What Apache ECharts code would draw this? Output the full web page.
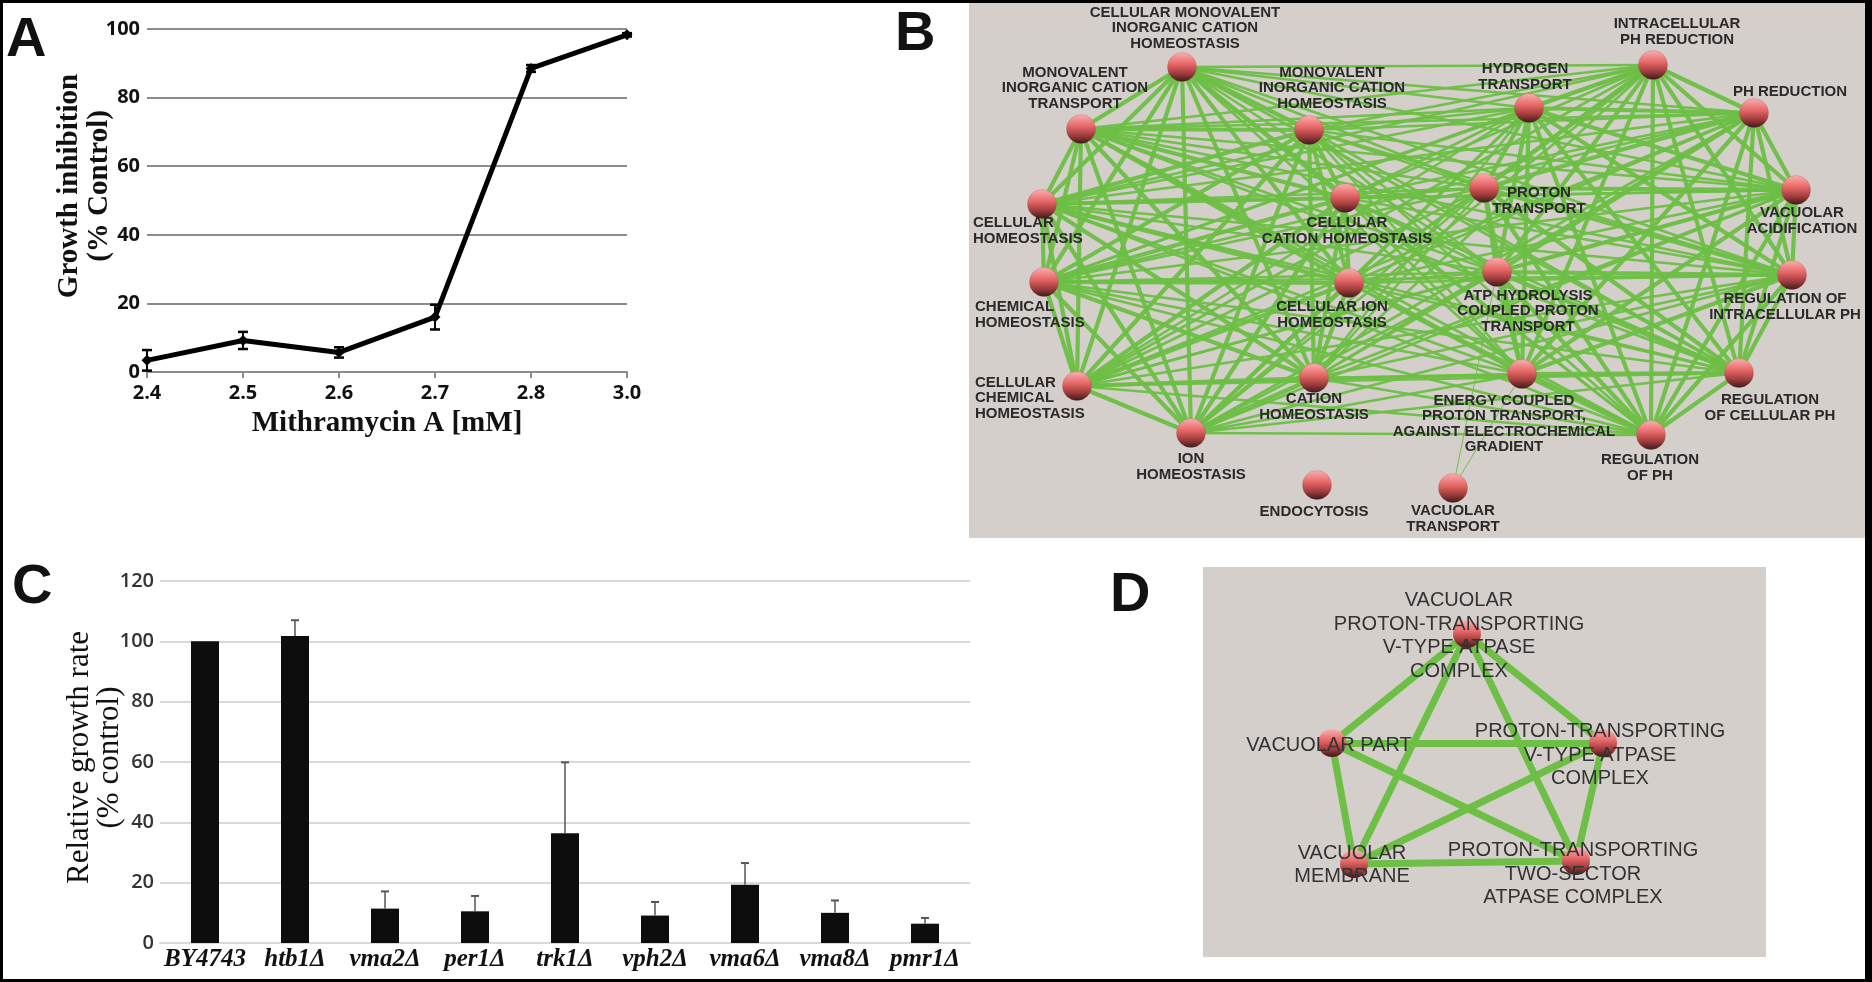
<!DOCTYPE html>
<html>
<head>
<meta charset="utf-8">
<script src="https://cdn.jsdelivr.net/npm/echarts@6/dist/echarts.min.js"></script>
<style>
html,body{margin:0;padding:0;background:#fff;}
#main{width:1872px;height:982px;}
</style>
</head>
<body>
<div id="main"></div>
<script>
// ---------- Panel A data ----------
const aX = ['2.4', '2.5', '2.6', '2.7', '2.8', '3.0'];
const aVal = [3.4, 9.2, 5.7, 16, 88.5, 98.3];
const aErr = [3, 2.5, 1.5, 3.6, 1, 0.5];
const aYTicks = [0, 20, 40, 60, 80, 100];

// ---------- Panel C data ----------
const cCats = ['BY4743', 'htb1Δ', 'vma2Δ', 'per1Δ', 'trk1Δ', 'vph2Δ', 'vma6Δ', 'vma8Δ', 'pmr1Δ'];
const cVal = [100, 101.8, 11.4, 10.5, 36.4, 9.1, 19.3, 10, 6.4];
const cErr = [0, 5.2, 5.7, 5.1, 23.5, 4.5, 7.2, 4.1, 1.9];
const cYTicks = [0, 20, 40, 60, 80, 100, 120];

// ---------- Panel B network (layout units) ----------
const bNames = [
  'CELLULAR MONOVALENT\nINORGANIC CATION\nHOMEOSTASIS',
  'MONOVALENT\nINORGANIC CATION\nTRANSPORT',
  'MONOVALENT\nINORGANIC CATION\nHOMEOSTASIS',
  'CELLULAR\nHOMEOSTASIS',
  'CELLULAR\nCATION HOMEOSTASIS',
  'INTRACELLULAR\nPH REDUCTION',
  'HYDROGEN\nTRANSPORT',
  'PH REDUCTION',
  'PROTON\nTRANSPORT',
  'VACUOLAR\nACIDIFICATION',
  'CHEMICAL\nHOMEOSTASIS',
  'CELLULAR ION\nHOMEOSTASIS',
  'CELLULAR\nCHEMICAL\nHOMEOSTASIS',
  'CATION\nHOMEOSTASIS',
  'ION\nHOMEOSTASIS',
  'ENDOCYTOSIS',
  'ATP HYDROLYSIS\nCOUPLED PROTON\nTRANSPORT',
  'REGULATION OF\nINTRACELLULAR PH',
  'ENERGY COUPLED\nPROTON TRANSPORT,\nAGAINST ELECTROCHEMICAL\nGRADIENT',
  'REGULATION\nOF CELLULAR PH',
  'REGULATION\nOF PH',
  'VACUOLAR\nTRANSPORT'
];
const bX = [213, 112, 340, 73, 376, 684, 560, 785, 515, 827, 75, 380, 108, 345, 222, 348, 528, 823, 553, 770, 682, 484];
const bY = [64, 126, 127, 201, 195, 62, 105, 110, 185, 187, 279, 280, 383, 375, 430, 482, 269, 272, 371, 370, 432, 485];
// overlap cluster of each term (0 = ion homeostasis cluster, 1 = proton / pH cluster, -1 = unlinked)
const bGroup = [0, 0, 0, 0, 0, 1, 1, 1, 1, 1, 0, 0, 0, 0, 0, -1, 1, 1, 1, 1, 1, -1];
const bExtraLinks = [[21, 18], [21, 16]];

// ---------- Panel D network (layout units) ----------
const dNames = [
  'VACUOLAR\nPROTON-TRANSPORTING\nV-TYPE ATPASE\nCOMPLEX',
  'VACUOLAR PART',
  'PROTON-TRANSPORTING\nV-TYPE ATPASE\nCOMPLEX',
  'VACUOLAR\nMEMBRANE',
  'PROTON-TRANSPORTING\nTWO-SECTOR\nATPASE COMPLEX'
];
const dX = [264, 129, 400, 151, 373];
const dY = [67, 176, 176, 297, 294];

// ---------- label placement (style) ----------
const bLabelOffset = [
  [3, -39], [-6, -41], [23, -42], [-69, 27], [2, 33], [24, -33], [-4, -31], [36, -21],
  [55, 13], [6, 31], [-69, 33], [-17, 32], [-102, 12], [0, 29], [0, 34], [-3, 27],
  [31, 39], [-7, 32], [-18, 50], [31, 35], [-1, 33], [0, 31]
];
const bLabelAlign = ['center', 'center', 'center', 'left', 'center', 'center', 'center', 'center',
  'center', 'center', 'left', 'center', 'left', 'center', 'center', 'center',
  'center', 'center', 'center', 'center', 'center', 'center'];
const dLabelOffset = [[-8, 2], [-3, 2], [-3, 12], [-2, 1], [-3, 13]];

const chart = echarts.init(document.getElementById('main'), null, {renderer: 'canvas'});

const nodeColor = new echarts.graphic.LinearGradient(0, 0, 0, 1, [
  {offset: 0, color: '#fbb0b0'},
  {offset: 0.4, color: '#e86868'},
  {offset: 0.72, color: '#a03c3c'},
  {offset: 1, color: '#3a1a1a'}
]);
const green = '#6dbf45';

// Build B nodes & links
const bData = bNames.map((n, i) => ({
  name: n,
  value: [bX[i], bY[i]],
  label: {offset: bLabelOffset[i], align: bLabelAlign[i]}
}));
const bLinks = [];
for (let i = 0; i < bNames.length; i++) {
  for (let j = i + 1; j < bNames.length; j++) {
    if (bGroup[i] < 0 || bGroup[j] < 0) continue;
    bLinks.push({source: i, target: j, lineStyle: {width: bGroup[i] === bGroup[j] ? 4.2 : 2.6}});
  }
}
bExtraLinks.forEach(p => bLinks.push({source: p[0], target: p[1], lineStyle: {width: 1}}));

const dData = dNames.map((n, i) => ({name: n, value: [dX[i], dY[i]], label: {offset: dLabelOffset[i]}}));
const dLinks = [];
for (let i = 0; i < dNames.length; i++) {
  for (let j = i + 1; j < dNames.length; j++) dLinks.push({source: i, target: j});
}

function errorBars(upOnly, capHalf, color, lw) {
  return function (params, api) {
    const i = api.value(0), v = api.value(1), e = api.value(2);
    if (!e) return null;
    const top = api.coord([i, v + e]);
    const bot = api.coord([i, upOnly ? v : v - e]);
    const children = [
      {type: 'line', shape: {x1: top[0], y1: top[1], x2: bot[0], y2: bot[1]}, style: {stroke: color, lineWidth: lw}},
      {type: 'line', shape: {x1: top[0] - capHalf, y1: top[1], x2: top[0] + capHalf, y2: top[1]}, style: {stroke: color, lineWidth: lw + 0.5}}
    ];
    if (!upOnly) children.push({type: 'line', shape: {x1: bot[0] - capHalf, y1: bot[1], x2: bot[0] + capHalf, y2: bot[1]}, style: {stroke: color, lineWidth: lw + 0.5}});
    return {type: 'group', children: children};
  };
}

const tickFont = '"Open Sans", "Liberation Sans", sans-serif';
const serif = '"Liberation Serif", "DejaVu Serif", serif';
const letterFont = 'bold 56px "Liberation Sans", sans-serif';

const option = {
  animation: false,
  backgroundColor: '#ffffff',
  graphic: [
    {type: 'text', left: 6, top: 13, style: {text: 'A', font: letterFont, fill: '#111'}},
    {type: 'text', left: 895, top: 7, style: {text: 'B', font: letterFont, fill: '#111'}},
    {type: 'text', left: 12, top: 560, style: {text: 'C', font: letterFont, fill: '#111'}},
    {type: 'text', left: 1110, top: 568, style: {text: 'D', font: letterFont, fill: '#111'}},
    {type: 'rect', shape: {x: 0, y: 0, width: 1872, height: 3}, style: {fill: '#000'}},
    {type: 'rect', shape: {x: 0, y: 979, width: 1872, height: 3}, style: {fill: '#000'}},
    {type: 'rect', shape: {x: 0, y: 0, width: 3, height: 982}, style: {fill: '#000'}},
    {type: 'rect', shape: {x: 1865, y: 0, width: 7, height: 982}, style: {fill: '#000'}}
  ],
  grid: [
    {left: 147, top: 29, width: 480, height: 343},
    {left: 160, top: 581, width: 810, height: 362},
    {left: 969, top: 3, width: 896, height: 535, show: true, backgroundColor: '#d4cfcb', borderWidth: 0},
    {left: 1203, top: 567, width: 563, height: 390, show: true, backgroundColor: '#d4cfcb', borderWidth: 0}
  ],
  xAxis: [
    {
      gridIndex: 0, type: 'category', data: aX, boundaryGap: false,
      axisLine: {lineStyle: {color: '#8c8c8c', width: 2}},
      axisTick: {show: true, length: 6, lineStyle: {color: '#8c8c8c', width: 2}},
      axisLabel: {color: '#111', fontFamily: tickFont, fontWeight: 'bold', fontSize: 20, margin: 11},
      name: 'Mithramycin A [mM]', nameLocation: 'middle', nameGap: 37, nameMoveOverlap: false,
      nameTextStyle: {color: '#111', fontFamily: serif, fontWeight: 'bold', fontSize: 29}
    },
    {
      gridIndex: 1, type: 'category', data: cCats,
      axisLine: {lineStyle: {color: '#d9d9d9', width: 2}},
      axisTick: {show: false},
      axisLabel: {color: '#111', fontFamily: serif, fontWeight: 'bold', fontStyle: 'italic', fontSize: 25, margin: 4, interval: 0}
    },
    {gridIndex: 2, type: 'value', min: 0, max: 896, show: false},
    {gridIndex: 3, type: 'value', min: 0, max: 563, show: false}
  ],
  yAxis: [
    {
      gridIndex: 0, type: 'value', min: aYTicks[0], max: aYTicks[aYTicks.length - 1], interval: 20,
      axisLine: {show: false}, axisTick: {show: false},
      splitLine: {lineStyle: {color: '#8c8c8c', width: 2}},
      axisLabel: {color: '#111', fontFamily: tickFont, fontWeight: 'bold', fontSize: 20, margin: 7},
      name: 'Growth inhibition\n(% Control)', nameLocation: 'middle', nameRotate: 90, nameGap: 32, nameMoveOverlap: false,
      nameTextStyle: {color: '#111', fontFamily: serif, fontWeight: 'bold', fontSize: 29, lineHeight: 30, padding: [0, 0, 0, 29]}
    },
    {
      gridIndex: 1, type: 'value', min: cYTicks[0], max: cYTicks[cYTicks.length - 1], interval: 20,
      axisLine: {show: false}, axisTick: {show: false},
      splitLine: {lineStyle: {color: '#d9d9d9', width: 2}},
      axisLabel: {color: '#333', fontFamily: tickFont, fontWeight: 600, fontSize: 20, margin: 6},
      name: 'Relative growth rate\n(% control)', nameLocation: 'middle', nameRotate: 90, nameGap: 35, nameMoveOverlap: false,
      nameTextStyle: {color: '#111', fontFamily: serif, fontSize: 31, lineHeight: 30, padding: [0, 0, 0, 9]}
    },
    {gridIndex: 2, type: 'value', min: 0, max: 535, inverse: true, show: false},
    {gridIndex: 3, type: 'value', min: 0, max: 390, inverse: true, show: false}
  ],
  series: [
    {
      type: 'line', xAxisIndex: 0, yAxisIndex: 0, data: aVal,
      lineStyle: {color: '#000', width: 5}, itemStyle: {color: '#000'},
      symbol: 'diamond', symbolSize: 11, z: 3
    },
    {
      type: 'custom', xAxisIndex: 0, yAxisIndex: 0, z: 4,
      data: aVal.map((v, i) => [i, v, aErr[i]]),
      renderItem: errorBars(false, 5, '#000', 2)
    },
    {
      type: 'bar', xAxisIndex: 1, yAxisIndex: 1, data: cVal, barWidth: 28,
      itemStyle: {color: '#0d0d0d'}
    },
    {
      type: 'custom', xAxisIndex: 1, yAxisIndex: 1, z: 4,
      data: cVal.map((v, i) => [i, v, cErr[i]]),
      renderItem: errorBars(true, 4, '#555', 1.5)
    },
    {
      type: 'graph', coordinateSystem: 'cartesian2d', xAxisIndex: 2, yAxisIndex: 2,
      data: bData, links: bLinks, symbol: 'circle', symbolSize: 29,
      itemStyle: {color: nodeColor, borderColor: 'rgba(120,60,60,0.4)', borderWidth: 0.5},
      lineStyle: {color: green, opacity: 0.95, curveness: 0},
      label: {show: true, position: 'inside', color: '#2a2a2a', fontFamily: '"Liberation Sans", Arial, sans-serif',
        fontWeight: 'bold', fontSize: 15, lineHeight: 15.5, verticalAlign: 'middle'},
      emphasis: {disabled: true}, silent: true, roam: false
    },
    {
      type: 'graph', coordinateSystem: 'cartesian2d', xAxisIndex: 3, yAxisIndex: 3,
      data: dData, links: dLinks, symbol: 'circle', symbolSize: 28,
      itemStyle: {color: nodeColor},
      lineStyle: {color: green, opacity: 1, width: 7, curveness: 0},
      label: {show: true, position: 'inside', color: '#333', fontFamily: '"Liberation Sans", Arial, sans-serif',
        fontSize: 20, lineHeight: 23.5, align: 'center', verticalAlign: 'middle'},
      emphasis: {disabled: true}, silent: true, roam: false
    }
  ]
};
chart.setOption(option);
</script>
</body>
</html>
